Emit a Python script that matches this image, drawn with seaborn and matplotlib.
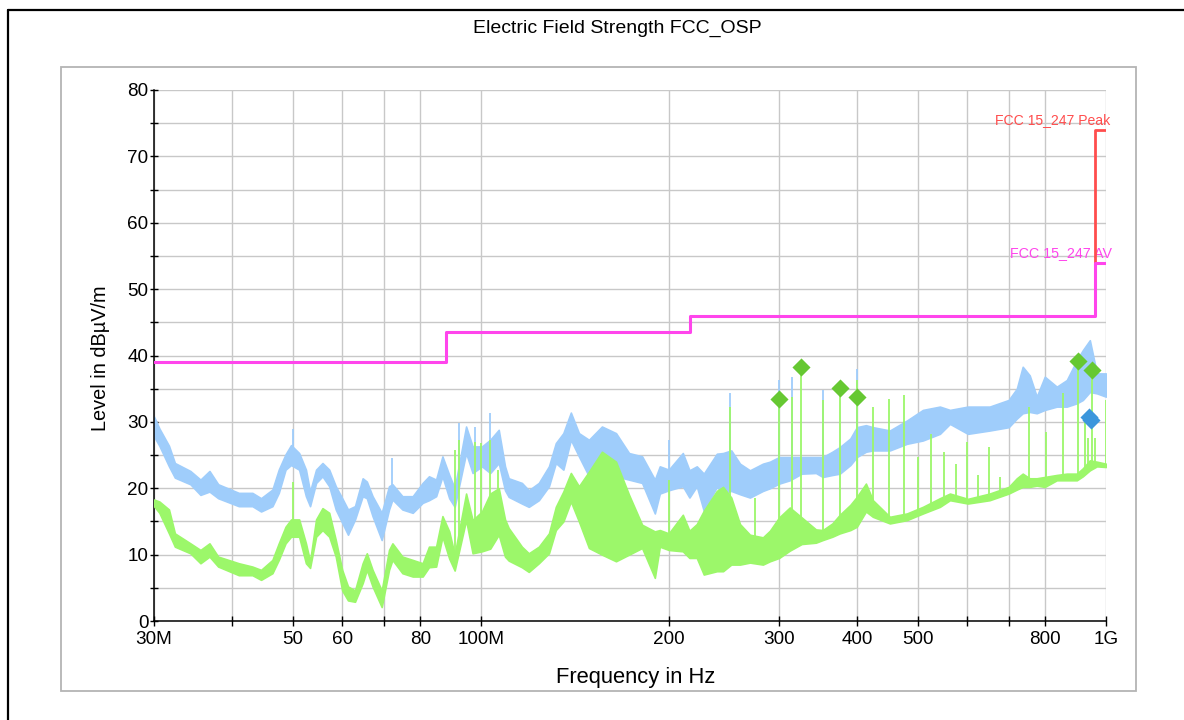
import numpy as np
import matplotlib
matplotlib.use("Agg")
import matplotlib.pyplot as plt
import seaborn as sns
from matplotlib.lines import Line2D
from matplotlib.patches import Rectangle
from matplotlib.ticker import FixedLocator, FixedFormatter, NullLocator, MultipleLocator

# ---------------- data ----------------
freq_mhz = [30.0, 30.6, 31.7, 32.4, 34.3, 35.6, 36.8, 38.0, 41.0, 43.1, 44.5, 46.4, 47.5, 48.7,
            49.7, 51.2, 52.5, 53.3, 54.5, 55.8, 57.2, 58.6, 60.0, 61.3, 62.9, 64.7, 65.7, 67.1,
            69.4, 71.3, 72.2, 74.9, 77.8, 80.7, 82.6, 84.8, 86.8, 89.0, 90.8, 94.7, 97.0, 100.4,
            103.5, 106.8, 109.3, 110.8, 116.3, 119.3, 123.8, 128.5, 131.8, 135.5, 139.3, 143.5,
            148.9, 156.2, 164.5, 172.6, 181.1, 189.8, 193.3, 199.8, 210.4, 215.6, 221.5, 227.3,
            238.5, 244.0, 251.5, 259.7, 269.4, 282.6, 290.0, 300.0, 312.0, 326.0, 343.5, 352.3,
            365.0, 375.1, 390.0, 399.4, 413.0, 423.7, 451.1, 480.3, 509.5, 542.4, 562.8, 601.2,
            651.5, 698.8, 720.0, 735.8, 755.0, 774.8, 798.1, 834.2, 865.6, 898.1, 918.2, 942.2,
            967.0, 999.7]
# peak trace (light blue) envelope
peak_hi = [30.8, 29.0, 26.4, 23.8, 22.6, 21.3, 22.6, 20.6, 19.3, 19.3, 18.5, 19.8, 22.8, 25.1,
           26.5, 25.3, 22.8, 19.5, 22.8, 23.8, 22.8, 20.3, 18.5, 16.8, 17.3, 21.5, 21.0, 18.8,
           16.3, 20.3, 20.6, 18.8, 18.8, 20.8, 21.8, 21.3, 24.8, 22.0, 20.0, 29.3, 26.3, 26.3,
           27.3, 28.8, 23.3, 21.5, 20.8, 19.7, 20.8, 23.3, 26.8, 28.3, 31.4, 28.3,
           27.3, 29.3, 28.3, 25.3, 24.8, 21.3, 23.3, 22.8, 25.3, 22.7, 23.3, 22.2,
           25.2, 25.3, 25.7, 23.7, 22.7, 23.7, 24.0, 24.7, 24.7, 24.7, 24.7, 24.7,
           25.5, 26.2, 27.5, 29.2, 29.5, 29.2, 28.7, 30.2, 31.8, 32.3, 31.8, 32.3,
           32.3, 33.3, 35.0, 38.3, 37.0, 33.8, 36.8, 35.3, 36.3, 39.3, 40.8, 42.3,
           37.3, 37.3]
peak_lo = [27.8, 26.4, 23.3, 21.6, 20.6, 19.0, 19.5, 18.5, 17.3, 17.3, 16.5, 17.3, 19.3, 22.8,
           23.5, 22.8, 18.8, 17.3, 20.8, 21.8, 20.3, 16.8, 14.8, 13.0, 15.3, 18.8, 18.5, 15.8,
           12.2, 16.8, 18.3, 16.8, 16.3, 17.8, 18.2, 18.8, 21.8, 18.5, 17.2, 25.3, 22.3, 23.3,
           22.3, 23.8, 19.7, 18.7, 17.7, 17.2, 18.2, 20.3, 23.8, 22.8, 27.3, 24.8,
           21.8, 22.3, 21.8, 21.3, 20.8, 16.2, 19.2, 19.7, 20.3, 18.6, 20.3, 16.6,
           20.2, 19.3, 19.6, 19.1, 18.6, 19.6, 20.0, 20.7, 21.2, 22.2, 22.3, 21.7,
           22.0, 22.2, 23.5, 24.7, 25.5, 25.7, 25.7, 26.7, 27.2, 28.2, 29.7, 28.2,
           28.7, 29.2, 30.5, 31.3, 31.5, 31.3, 31.8, 32.3, 32.3, 32.8, 33.3, 34.5,
           34.3, 33.8]
# average trace (light green) envelope
avg_hi = [18.3, 18.0, 16.8, 13.2, 11.7, 10.7, 11.7, 9.7, 8.7, 8.2, 7.7, 9.2, 11.7, 14.2,
          15.3, 15.3, 11.7, 9.0, 15.3, 17.0, 16.3, 12.2, 7.7, 5.2, 4.6, 8.7, 10.2, 7.7,
          4.6, 10.7, 11.7, 9.7, 9.2, 8.7, 11.2, 11.2, 15.8, 13.5, 10.0, 19.2, 15.2, 16.5,
          19.2, 20.0, 15.3, 14.0, 11.2, 10.2, 11.2, 13.2, 17.2, 19.5, 22.3, 20.3,
          22.5, 25.5, 24.0, 19.0, 14.5, 13.5, 13.7, 13.2, 16.0, 13.6, 14.6, 16.6,
          19.6, 20.2, 18.6, 14.6, 13.0, 12.6, 13.6, 15.6, 17.1, 15.6, 13.8, 13.7,
          14.7, 16.0, 17.5, 18.7, 20.7, 18.2, 15.7, 16.2, 17.2, 18.5, 19.2, 18.4,
          19.2, 20.2, 21.5, 22.2, 21.5, 21.5, 21.7, 22.0, 22.2, 22.2, 23.0, 24.2,
          24.0, 23.7]
avg_lo = [17.3, 16.3, 13.2, 11.2, 10.2, 8.7, 9.7, 8.2, 6.9, 6.9, 6.2, 7.2, 9.2, 11.7,
          12.7, 12.7, 8.7, 8.0, 12.7, 13.7, 12.7, 9.7, 4.6, 3.1, 2.9, 5.7, 7.7, 5.2,
          2.1, 7.7, 9.2, 7.2, 6.7, 6.7, 8.1, 8.2, 12.7, 9.4, 7.6, 15.2, 10.2, 10.5,
          10.9, 13.0, 9.7, 9.1, 8.1, 7.4, 8.7, 10.2, 13.7, 15.0, 18.0, 15.0,
          11.0, 10.0, 9.0, 10.0, 11.0, 6.5, 11.2, 10.7, 10.5, 9.5, 9.5, 7.0,
          7.5, 7.5, 8.5, 8.5, 8.8, 8.5, 9.0, 9.5, 10.6, 11.6, 11.8, 12.2,
          12.7, 13.2, 13.7, 14.2, 16.5, 15.7, 14.7, 15.2, 16.2, 17.2, 18.2, 17.7,
          18.2, 19.2, 19.8, 20.2, 20.2, 20.4, 20.2, 21.2, 21.2, 21.2, 21.8, 22.7,
          23.3, 23.2]

# narrow-band spikes
avg_spike_f = [50.0, 90.9, 92.4, 97.8, 99.9, 103.5, 106.5, 200.0, 250.0, 274.0, 300.0, 315.0,
               325.0, 352.0, 375.0, 400.0, 424.0, 450.0, 476.0, 500.0, 525.0, 551.0, 575.0,
               600.0, 625.0, 651.0, 676.0, 752.0, 801.0, 852.0, 902.0, 926.0, 935.0, 950.0,
               960.0, 1000.0]
avg_spike_lvl = [21.0, 25.8, 27.3, 27.0, 26.8, 27.3, 22.8, 21.3, 32.3, 18.6, 33.5, 33.8,
                 38.2, 33.3, 35.1, 36.3, 32.3, 33.5, 34.0, 24.7, 28.2, 25.5, 23.7,
                 27.0, 22.0, 26.2, 21.7, 32.3, 28.5, 34.3, 39.2, 30.2, 27.5, 37.8,
                 27.5, 33.3]
peak_spike_f = [50.0, 72.2, 92.4, 97.8, 103.5, 200.0, 250.0, 300.0, 315.0, 352.0, 400.0]
peak_spike_lvl = [29.0, 24.6, 29.8, 29.3, 31.4, 27.3, 34.3, 36.3, 36.8, 34.8, 38.0]

# limit lines
av_limit_f = [30, 88, 216, 960, 1000]
av_limit_lvl = [39, 43.5, 46, 54, 54]
pk_limit_f = [960, 960, 1000]
pk_limit_lvl = [54, 74, 74]

# final measurement markers
final_pk_f = [300, 325, 375, 400, 902, 950]
final_pk_lvl = [33.5, 38.2, 35.1, 33.7, 39.2, 37.8]
final_av_f = [939, 945]
final_av_lvl = [30.8, 30.3]

x_ticks = [30, 40, 50, 60, 70, 80, 100, 200, 300, 400, 500, 600, 700, 800, 1000]
x_labels = ["30M", "", "50", "60", "", "80", "100M", "200", "300", "400", "500", "", "", "800", "1G"]

# ---------------- style ----------------
sns.set_theme(style="white")
plt.rcParams["font.family"] = ["Liberation Sans", "DejaVu Sans"]

BLUE = "#9fcdfb"
GREEN = "#9cf76a"
MAG = "#ff45ec"
RED = "#ff4d4d"

W, H = 1184, 720
fig = plt.figure(figsize=(W / 100, H / 100), dpi=100)
fig.patch.set_facecolor("white")

# outer frame lines and inner grey box
fig.add_artist(Line2D([8 / W, 1.0], [1 - 10 / H, 1 - 10 / H], color="black", lw=1.6,
                      transform=fig.transFigure))
fig.add_artist(Line2D([8 / W, 8 / W], [0.0, 1 - 10 / H], color="black", lw=1.6,
                      transform=fig.transFigure))
fig.add_artist(Rectangle((61 / W, 1 - 691 / H), (1136 - 61) / W, (691 - 67) / H,
                         fill=False, edgecolor="#b4b4b4", lw=1.3, transform=fig.transFigure))

ax = fig.add_axes([154 / W, 1 - 621 / H, (1106 - 154) / W, (621 - 90) / H])
ax.set_facecolor("white")
ax.set_xscale("log")
ax.set_xlim(30, 1000)
ax.set_ylim(0, 80)

f = np.array(freq_mhz)
lf = np.log10(f)

# peak trace band
ax.fill_between(f, peak_lo, peak_hi, color=BLUE, lw=1.2, edgecolor=BLUE, zorder=2)
ps_f = np.array(peak_spike_f)
ps_base = np.interp(np.log10(ps_f), lf, peak_lo)
ax.vlines(ps_f, ps_base, peak_spike_lvl, color=BLUE, lw=1.3, zorder=2)

# average trace band
ax.fill_between(f, avg_lo, avg_hi, color=GREEN, lw=1.2, edgecolor=GREEN, zorder=3)
as_f = np.array(avg_spike_f)
as_base = np.interp(np.log10(as_f), lf, avg_lo)
ax.vlines(as_f, as_base, avg_spike_lvl, color=GREEN, lw=1.3, zorder=3)

# limits
sns.lineplot(x=av_limit_f, y=av_limit_lvl, ax=ax, color=MAG, lw=2.2, estimator=None,
             sort=False, drawstyle="steps-post", zorder=5)
sns.lineplot(x=pk_limit_f, y=pk_limit_lvl, ax=ax, color=RED, lw=2.0, estimator=None,
             sort=False, zorder=4)

# final markers
sns.scatterplot(x=final_pk_f, y=final_pk_lvl, ax=ax, marker="D", s=85, color="#66c832",
                edgecolor="#66c832", linewidth=0, zorder=6)
sns.scatterplot(x=final_av_f, y=final_av_lvl, ax=ax, marker="D", s=85, color="#3c96dc",
                edgecolor="#3c96dc", linewidth=0, zorder=6)

ax.annotate("FCC 15_247 Peak", xy=(1000, 74), xytext=(3, 2), textcoords="offset points",
            ha="right", va="bottom", color=RED, fontsize=10.1, annotation_clip=False)
ax.annotate("FCC 15_247 AV", xy=(1000, 54), xytext=(4, 2), textcoords="offset points",
            ha="right", va="bottom", color=MAG, fontsize=10.3, annotation_clip=False)

# axes, ticks, grid
ax.xaxis.set_major_locator(FixedLocator(x_ticks))
ax.xaxis.set_major_formatter(FixedFormatter(x_labels))
ax.xaxis.set_minor_locator(NullLocator())
ax.yaxis.set_major_locator(MultipleLocator(10))
ax.yaxis.set_minor_locator(MultipleLocator(5))
ax.grid(True, which="major", axis="both", color="#c8c8c8", lw=1.0, zorder=0)
ax.grid(True, which="minor", axis="y", color="#c8c8c8", lw=1.0, zorder=0)
ax.set_axisbelow(True)

for s in ["top", "right"]:
    ax.spines[s].set_visible(False)
for s in ["left", "bottom"]:
    ax.spines[s].set_color("black")
    ax.spines[s].set_linewidth(1.1)

ax.tick_params(axis="x", which="major", direction="inout", length=7, width=1.0, color="black",
               pad=4, labelsize=13.6, labelcolor="black", bottom=True)
ax.tick_params(axis="y", which="both", direction="inout", length=6, width=1.0, color="black",
               pad=1, labelsize=13.6, labelcolor="black", left=True)

ax.set_xlabel("Frequency in Hz", fontsize=15.8, color="black")
ax.set_ylabel("Level in dBµV/m", fontsize=14.3, color="black")
ax.xaxis.set_label_coords((636 - 154) / 952, -(678 - 621) / 531)
ax.xaxis.label.set_va("center")
ax.yaxis.set_label_coords(-(154 - 101) / 952, (621 - 358) / 531)
ax.yaxis.label.set_va("center")

fig.text(617 / W, 1 - 28 / H, "Electric Field Strength FCC_OSP", ha="center", va="center",
         fontsize=14, color="black")

fig.savefig("out.png", dpi=100)
